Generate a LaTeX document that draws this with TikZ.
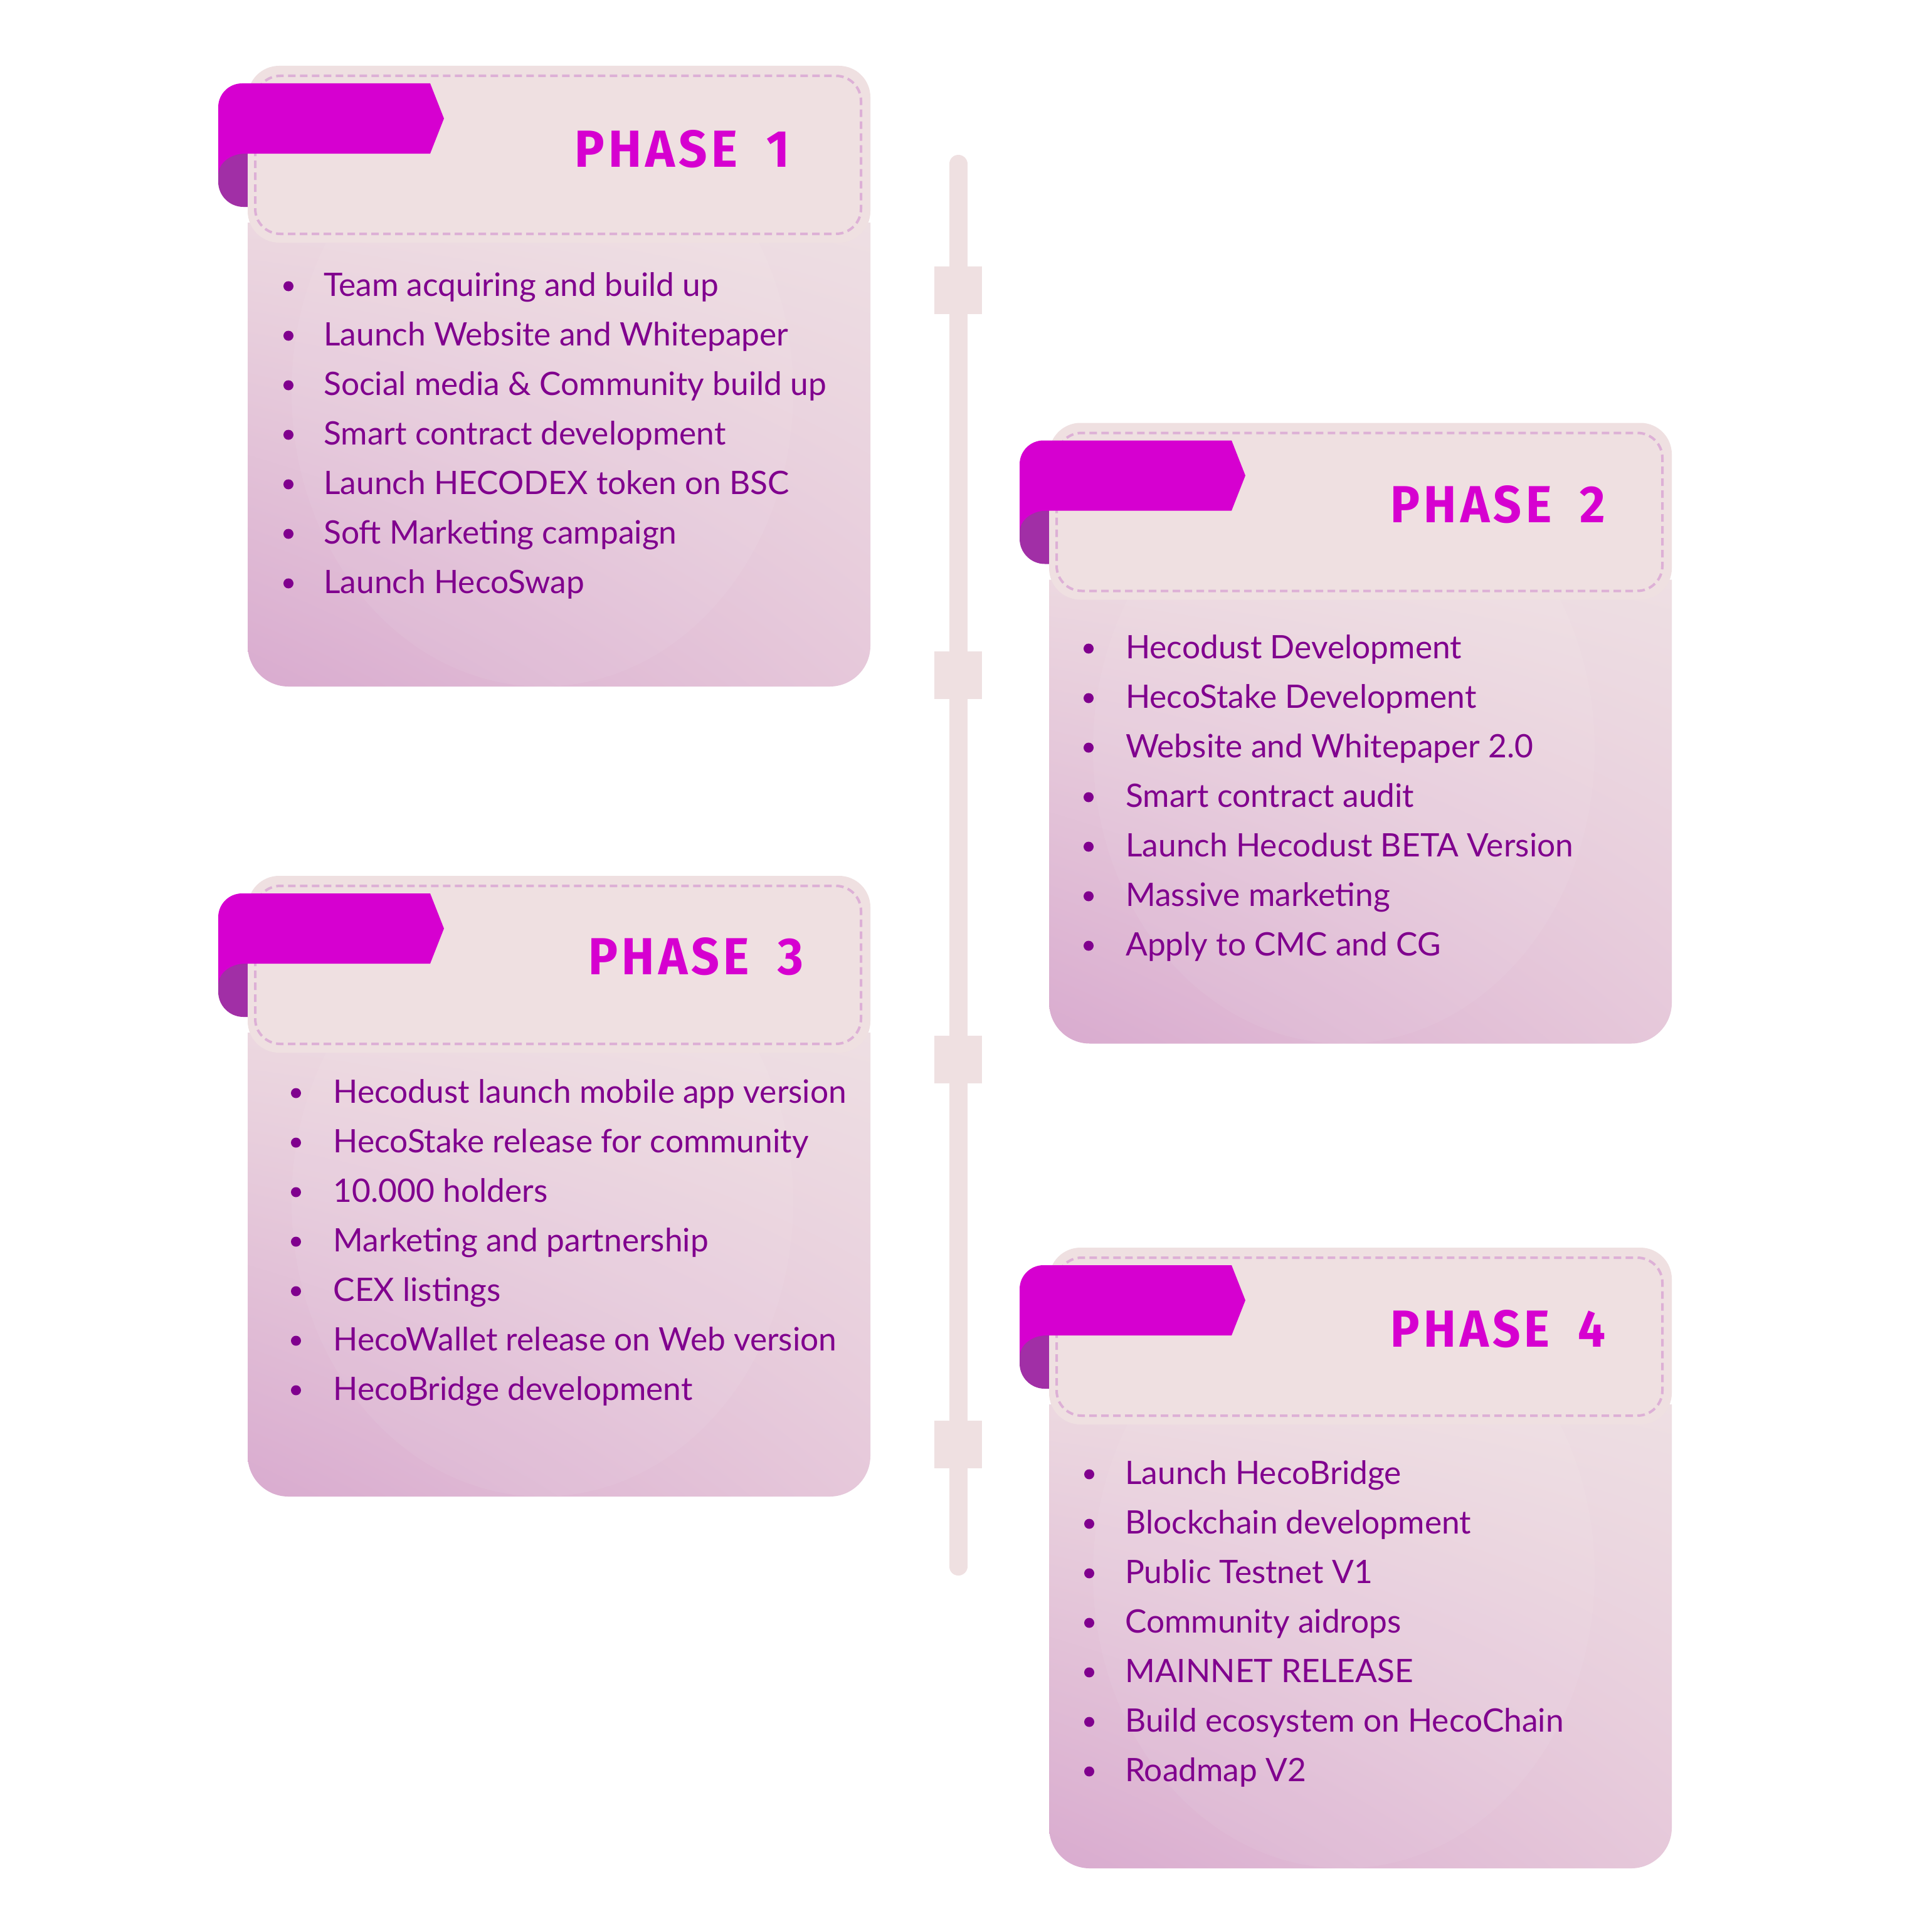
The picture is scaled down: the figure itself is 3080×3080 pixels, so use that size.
\documentclass[tikz,border=0pt]{standalone}
\usepackage{fontspec}
\usepackage{graphicx}
\usetikzlibrary{shadings}
\setmainfont{Lato}
\newfontfamily\headfont{Fira Sans}
\definecolor{magc}{HTML}{D600D0}
\definecolor{foldcol}{HTML}{A12FA6}
\definecolor{txtc}{HTML}{80008E}
\definecolor{headc}{HTML}{EFE0E1}
\definecolor{dashc}{HTML}{DDB0D6}
\definecolor{linec}{HTML}{EFE0E1}
\definecolor{bodyUL}{HTML}{ECD8E0}
\definecolor{bodyUR}{HTML}{EEDFE3}
\definecolor{bodyLL}{HTML}{D9ABCF}
\definecolor{bodyLR}{HTML}{E6C8DA}
\tikzset{
  dashbox/.style={draw=dashc, line width=4pt, dash pattern=on 12pt off 7pt, rounded corners=40pt},
  itemtext/.style={anchor=base west, inner sep=0pt, text=txtc, font=\fontsize{51.5}{62}\selectfont},
  bulletdot/.style={fill=txtc, circle, inner sep=0pt, minimum size=16pt},
  headtext/.style={anchor=base west, inner sep=0pt, text=magc},
  ticksq/.style={fill=linec, inner sep=0pt, minimum size=76pt},
  timeline/.style={draw=linec, line width=29pt, line cap=round}
}
\newcommand\hk{\kern0.08em}
\newcommand\roadcard[8]{%
  \fill[magc] (-47,130) rectangle (0,182);
  \fill[foldcol] (5,140) -- (-4,140) .. controls (-27,140) and (-47,155) .. (-47,175)
     -- (-47,185) .. controls (-47,207) and (-29,225) .. (-7,225) -- (5,225) -- cycle;
  \shade[upper left=bodyUL, upper right=bodyUR, lower left=bodyLL, lower right=bodyLR]
     (0,250) -- (0,925) .. controls (0,961) and (29,990) .. (65,990) -- (928,990)
     .. controls (964,990) and (993,961) .. (993,925) -- (993,250) -- cycle;
  \begin{scope}
    \clip (0,250) -- (0,925) .. controls (0,961) and (29,990) .. (65,990) -- (928,990)
     .. controls (964,990) and (993,961) .. (993,925) -- (993,250) -- cycle;
    \fill[white, opacity=0.06] (470,520) ellipse [x radius=400pt, y radius=470pt];
  \end{scope}
  \fill[headc, rounded corners=50pt] (0,0) rectangle (993,282);
  \draw[dashbox] (12,16) rectangle (978,268);
  \fill[magc] (291,28) -- (313,84) -- (291,140) -- (-47,140) -- (-47,66)
     .. controls (-47,45) and (-30,28) .. (-9,28) -- cycle;
  \node[headtext] (#1-head) at (#2,#3)
     {\resizebox{343pt}{59pt}{\headfont\bfseries P\hk H\hk A\hk S\hk E\ \kern0.34em#7}};
  \foreach \txt [count=\i] in {#8} {
    \node[bulletdot] (#1-b\i) at (#4,{#6+79*(\i-1)-15.5}) {};
    \node[itemtext] (#1-t\i) at (#5,{#6+79*(\i-1)}) {\txt};
  }%
}
\begin{document}
\begin{tikzpicture}[x=1pt,y=-1pt]
\useasboundingbox (0,0) rectangle (3080,3080);
\fill[white] (0,0) rectangle (3080,3080);
% timeline
\coordinate (tltop) at (1528,261.5);
\coordinate (tlbot) at (1528,2498.5);
\draw[timeline] (tltop) -- (tlbot);
\node[ticksq] (sq1) at (1528,463) {};
\node[ticksq] (sq2) at (1528,1076.5) {};
\node[ticksq] (sq3) at (1528,1690) {};
\node[ticksq] (sq4) at (1528,2303.5) {};
% cards
\begin{scope}[shift={(395,105)}]
\roadcard{c1}{521}{161}{65}{121}{367}{1}{Team acquiring and build up, Launch Website and Whitepaper, Social media \& Community build up, Smart contract development, Launch HECODEX token on BSC, Soft Marketing campaign, Launch HecoSwap}
\end{scope}
\begin{scope}[shift={(1673,674.5)}]
\roadcard{c2}{544}{159}{63}{122}{375.5}{2}{Hecodust Development, HecoStake Development, Website and Whitepaper 2.0, Smart contract audit, Launch Hecodust BETA Version, Massive marketing, Apply to CMC and CG}
\end{scope}
\begin{scope}[shift={(395,1397)}]
\roadcard{c3}{543}{157}{77}{136.5}{362}{3}{Hecodust launch mobile app version, HecoStake release for community, 10.000 holders, Marketing and partnership, CEX listings, HecoWallet release on Web version, HecoBridge development}
\end{scope}
\begin{scope}[shift={(1673,1990)}]
\roadcard{c4}{544}{158.5}{64}{121}{377}{4}{Launch HecoBridge, Blockchain development, Public Testnet V1, Community aidrops, MAINNET RELEASE, Build ecosystem on HecoChain, Roadmap V2}
\end{scope}
\end{tikzpicture}
\end{document}
